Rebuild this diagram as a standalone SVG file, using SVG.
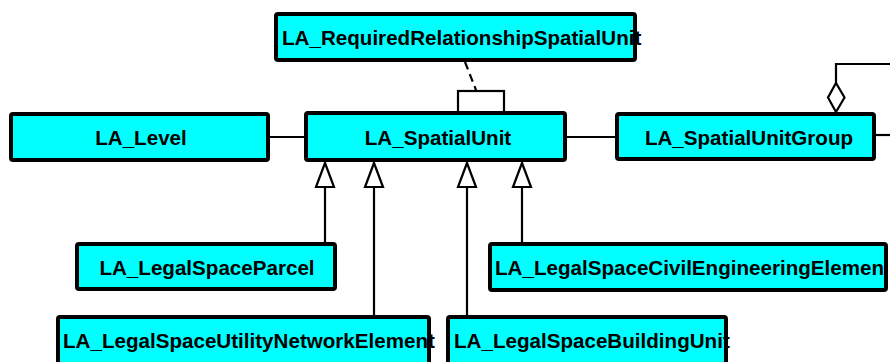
<svg xmlns="http://www.w3.org/2000/svg" width="890" height="362" viewBox="0 0 890 362">
<style>
.box{fill:#00ffff;stroke:#000;stroke-width:4;}
.lbl{font-family:"Liberation Sans",Arial,sans-serif;font-weight:bold;font-size:20.6px;fill:#000;}
.c{text-anchor:middle;}
.ln{stroke:#000;stroke-width:2.2;fill:none;}
.hd{fill:#fff;stroke:#000;stroke-width:2.2;}
</style>
<rect width="890" height="362" fill="#fff"/>
<g id="connectors">
<line class="ln" x1="465" y1="62" x2="476" y2="90" stroke-dasharray="8,5"/>
<rect x="458" y="91" width="46" height="22" fill="#fff" stroke="#000" stroke-width="2.2"/>
<line class="ln" x1="268" y1="137" x2="306" y2="137"/>
<line class="ln" x1="565" y1="137" x2="617" y2="137"/>
<line class="ln" x1="874" y1="135" x2="890" y2="135"/>
<polyline class="ln" points="836,83 836,64 890,64"/>
<polygon class="hd" points="836,112 828,97.5 836,83 844.5,97.5"/>
<line class="ln" x1="325" y1="187" x2="325" y2="244"/>
<line class="ln" x1="374" y1="187" x2="374" y2="317"/>
<line class="ln" x1="467" y1="187" x2="467" y2="317"/>
<line class="ln" x1="522" y1="187" x2="522" y2="244"/>
<polygon class="hd" points="325,163 316,187 334,187"/>
<polygon class="hd" points="374,163 365,187 383,187"/>
<polygon class="hd" points="467,163 458,187 476,187"/>
<polygon class="hd" points="522,163 513,187 531,187"/>
</g>
<g id="LA_RequiredRelationshipSpatialUnit">
<rect class="box" x="276" y="14" width="359" height="46" rx="2"/>
<text class="lbl" x="282" y="45">LA_RequiredRelationshipSpatialUnit</text>
</g>
<g id="LA_Level">
<rect class="box" x="11" y="114" width="257" height="46" rx="2"/>
<text class="lbl c" x="141" y="145">LA_Level</text>
</g>
<g id="LA_SpatialUnit">
<rect class="box" x="306" y="113" width="259" height="47" rx="2"/>
<text class="lbl c" x="438" y="145">LA_SpatialUnit</text>
</g>
<g id="LA_SpatialUnitGroup">
<rect class="box" x="617" y="114" width="257" height="45" rx="2"/>
<text class="lbl c" x="749" y="145">LA_SpatialUnitGroup</text>
</g>
<g id="LA_LegalSpaceParcel">
<rect class="box" x="77" y="244" width="258" height="45" rx="2"/>
<text class="lbl c" x="207" y="275">LA_LegalSpaceParcel</text>
</g>
<g id="LA_LegalSpaceCivilEngineeringElement">
<rect class="box" x="490" y="244" width="396" height="46" rx="2"/>
<text class="lbl" x="495" y="275">LA_LegalSpaceCivilEngineeringElemen</text>
</g>
<g id="LA_LegalSpaceUtilityNetworkElement">
<rect class="box" x="58" y="317" width="371" height="60" rx="2"/>
<text class="lbl" x="63" y="348">LA_LegalSpaceUtilityNetworkElement</text>
</g>
<g id="LA_LegalSpaceBuildingUnit">
<rect class="box" x="448" y="317" width="278" height="60" rx="2"/>
<text class="lbl" x="454" y="348">LA_LegalSpaceBuildingUnit</text>
</g>
</svg>
